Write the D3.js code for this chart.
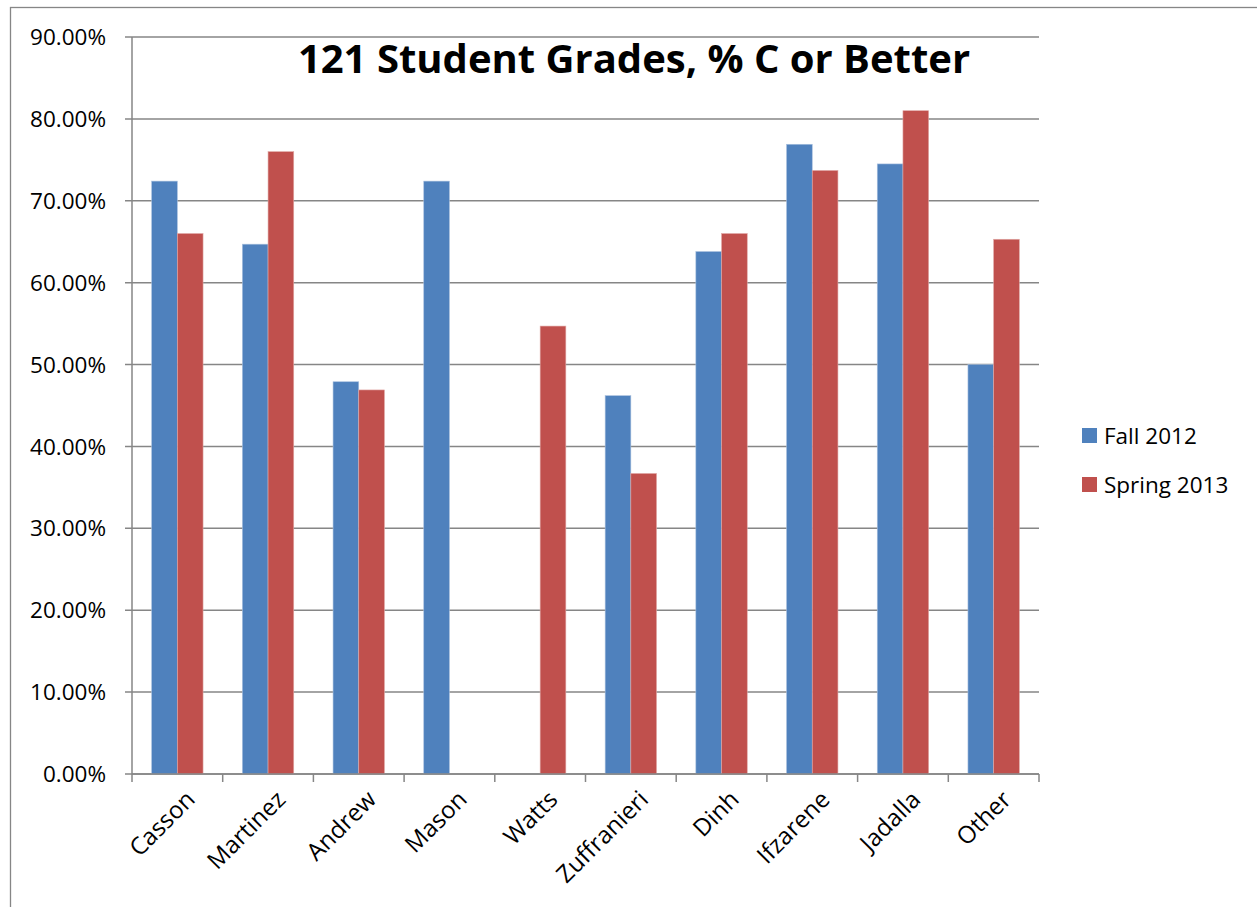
<!DOCTYPE html>
<html>
<head>
<meta charset="utf-8">
<script src="https://cdn.jsdelivr.net/npm/d3@7"></script>
<style>
  html, body { margin: 0; padding: 0; background: #fff; }
  text { font-family: "Open Sans", "Liberation Sans", sans-serif; }
</style>
</head>
<body>
<svg id="chart" width="1257" height="907"></svg>
<script>
const categories = ["Casson", "Martinez", "Andrew", "Mason", "Watts", "Zuffranieri", "Dinh", "Ifzarene", "Jadalla", "Other"];
const seriesNames = ["Fall 2012", "Spring 2013"];
const fall2012 = [0.724, 0.647, 0.479, 0.724, null, 0.462, 0.638, 0.769, 0.745, 0.500];
const spring2013 = [0.660, 0.760, 0.469, null, 0.547, 0.367, 0.660, 0.737, 0.810, 0.653];
const yTicks = [0, 0.1, 0.2, 0.3, 0.4, 0.5, 0.6, 0.7, 0.8, 0.9];
const title = "121 Student Grades, % C or Better";
const colors = ["#4F81BD", "#C0504D"];

const svg = d3.select("#chart");
const plot = { left: 132, right: 1039, top: 37, bottom: 774 };
const gridColor = "#868686";
const fs = 22.5;

// outer chart border
svg.append("rect").attr("x", 10.5).attr("y", 7.5).attr("width", 1260).attr("height", 920)
  .attr("fill", "none").attr("stroke", gridColor).attr("stroke-width", 1.3);

const x = d3.scaleBand().domain(categories).range([plot.left, plot.right]).paddingInner(0).paddingOuter(0);
const bw = x.bandwidth();
const xInner = d3.scaleBand().domain(seriesNames).range([bw * 0.2167, bw * 0.7833]).padding(0);
const y = d3.scaleLinear().domain([0, 0.9]).range([plot.bottom, plot.top]);

// gridlines
svg.append("g").selectAll("line").data(yTicks).join("line")
  .attr("x1", plot.left - 7).attr("x2", plot.right)
  .attr("y1", d => y(d)).attr("y2", d => y(d))
  .attr("stroke", gridColor).attr("stroke-width", 1.5);

// y axis labels
svg.append("g").selectAll("text").data(yTicks).join("text")
  .attr("x", 106).attr("y", d => y(d)).attr("dy", "0.36em")
  .attr("text-anchor", "end").attr("font-size", fs).attr("fill", "#000")
  .text(d => d3.format(".2%")(d));

// y axis line
svg.append("line").attr("x1", plot.left).attr("x2", plot.left).attr("y1", plot.top).attr("y2", plot.bottom)
  .attr("stroke", gridColor).attr("stroke-width", 1.5);

// x axis ticks at category boundaries
const bounds = categories.map(c => x(c)).concat([plot.right]);
svg.append("g").selectAll("line").data(bounds).join("line")
  .attr("x1", d => d).attr("x2", d => d).attr("y1", plot.bottom).attr("y2", plot.bottom + 8)
  .attr("stroke", gridColor).attr("stroke-width", 1.5);

// bars
const series = [fall2012, spring2013];
series.forEach((vals, si) => {
  svg.append("g").selectAll("rect")
    .data(categories.map((c, i) => ({ c, v: vals[i] })).filter(d => d.v != null))
    .join("rect")
    .attr("x", d => x(d.c) + xInner(seriesNames[si]))
    .attr("width", xInner.bandwidth())
    .attr("y", d => y(d.v))
    .attr("height", d => y(0) - y(d.v))
    .attr("fill", colors[si])
    .attr("stroke", si === 0 ? "#a9c0de" : "#e0a8a6").attr("stroke-width", 0.6);
});

// x axis line (on top)
svg.append("line").attr("x1", plot.left).attr("x2", plot.right).attr("y1", plot.bottom).attr("y2", plot.bottom)
  .attr("stroke", gridColor).attr("stroke-width", 1.5);

// x labels
svg.append("g").selectAll("text").data(categories).join("text")
  .attr("transform", d => `translate(${x(d) + bw / 2 + 13},${plot.bottom + 21}) rotate(-45)`)
  .attr("text-anchor", "end").attr("dy", "0.35em").attr("font-size", 24).attr("fill", "#000")
  .text(d => d);

// title
svg.append("text").attr("x", 634).attr("y", 73).attr("text-anchor", "middle")
  .attr("font-size", 40).attr("font-weight", "bold").attr("fill", "#000").text(title);

// legend
const legend = svg.append("g");
seriesNames.forEach((s, i) => {
  const ly = 428 + i * 49;
  legend.append("rect").attr("x", 1082).attr("y", ly).attr("width", 15).attr("height", 15).attr("fill", colors[i]);
  legend.append("text").attr("x", 1104).attr("y", ly + 7.5).attr("dy", "0.36em")
    .attr("font-size", fs).attr("fill", "#000").text(s);
});
</script>
</body>
</html>
